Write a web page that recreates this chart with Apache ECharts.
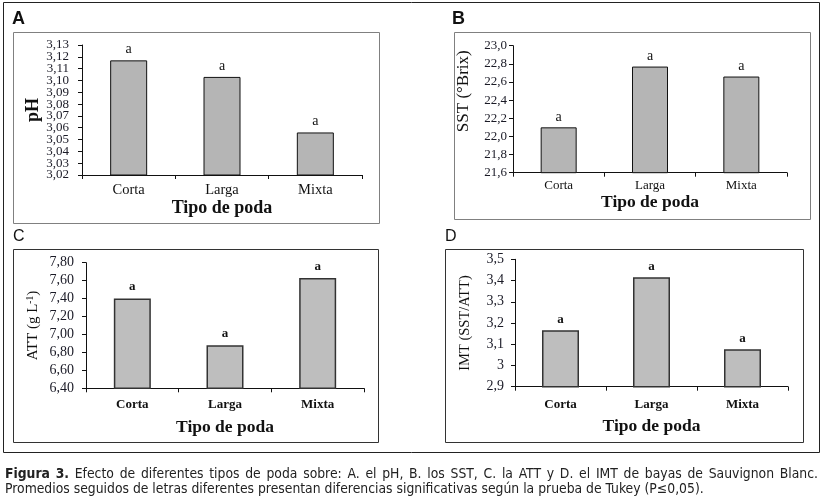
<!DOCTYPE html>
<html><head><meta charset="utf-8">
<script src="https://cdn.jsdelivr.net/npm/echarts@6/dist/echarts.min.js"></script>
<style>html,body{margin:0;padding:0;background:#fff}#c{width:824px;height:503px}</style>
</head><body><div id="c"></div>
<script>
// ---- data ----
const categories = ['Corta', 'Larga', 'Mixta'];
const phValues = [3.117, 3.103, 3.056];
const sstValues = [22.10, 22.77, 22.66];
const attValues = [7.40, 6.88, 7.63];
const imtValues = [3.166, 3.415, 3.076];
const significance = ['a', 'a', 'a'];
const phTicks = [3.02, 3.03, 3.04, 3.05, 3.06, 3.07, 3.08, 3.09, 3.10, 3.11, 3.12, 3.13];
const sstTicks = [21.6, 21.8, 22.0, 22.2, 22.4, 22.6, 22.8, 23.0];
const attTicks = [6.4, 6.6, 6.8, 7.0, 7.2, 7.4, 7.6, 7.8];
const imtTicks = [2.9, 3.0, 3.1, 3.2, 3.3, 3.4, 3.5];
const panelLetters = ['A', 'B', 'C', 'D'];
const xAxisTitle = 'Tipo de poda';
const captionBold = 'Figura 3.';
const captionLine1 = 'Efecto de diferentes tipos de poda sobre: A. el pH, B. los SST, C. la ATT y D. el IMT de bayas de Sauvignon Blanc.';
const captionLine2 = 'Promedios seguidos de letras diferentes presentan diferencias significativas según la prueba de Tukey (P≤0,05).';

const serif = 'Liberation Serif';
const capFontFamily = '"DejaVu Sans Condensed"';
const capSize = 13.8;

function comma(d) {
  return function (v) { return (d === null ? String(parseFloat(v.toFixed(1))) : v.toFixed(d)).replace('.', ','); };
}

// justified first caption line (layout only)
const mctx = document.createElement('canvas').getContext('2d');
const boldWords = captionBold.split(' ');
const normWords = captionLine1.split(' ');
let wordsW = 0;
mctx.font = 'bold ' + capSize + 'px ' + capFontFamily;
boldWords.forEach(w => wordsW += mctx.measureText(w).width);
mctx.font = capSize + 'px ' + capFontFamily;
normWords.forEach(w => wordsW += mctx.measureText(w).width);
const gaps = boldWords.length + normWords.length - 1;
const spW = Math.max(2, (813 - wordsW) / gaps);
const line1Rich = boldWords.map(w => '{b|' + w + '}').concat(normWords.map(w => '{n|' + w + '}')).join('{sp| }');

const panels = [
  { grid: { left: 82, top: 45, width: 280, height: 130 }, ticks: phTicks, interval: 0.01, dec: 2, split: true,
    data: phValues, name: 'pH', nameGap: 40, nameStyle: { fontWeight: 'bold', fontSize: 18 },
    xGap: 23, xFs: 18, xMargin: 8, catFs: 14.5, barWidth: 37, fill: '#b5b5b5', border: '#111', bw: 1,
    labelBold: false, labelFs: 14, labelDist: 4, tickFs: 13, tickMargin: 13, catBold: false },
  { grid: { left: 513, top: 45.7, width: 274, height: 127 }, ticks: sstTicks, interval: 0.2, dec: 1,
    data: sstValues, name: 'SST (°Brix)', nameGap: 41, nameStyle: { fontWeight: 'normal', fontSize: 17, padding: [0, 0, 0, 36] },
    xGap: 21, xFs: 17.5, xMargin: 6, catFs: 13, barWidth: 36, fill: '#b5b5b5', border: '#111', bw: 1,
    labelBold: false, labelFs: 14, labelDist: 3, tickFs: 13, tickMargin: 6, catBold: false },
  { grid: { left: 86, top: 262.7, width: 278, height: 125.6 }, ticks: attTicks, interval: 0.2, dec: 2,
    data: attValues, name: '{a|ATT (g L}{s|-1}{a|)}', nameGap: 45, nameStyle: { fontWeight: 'normal', fontSize: 15 },
    xGap: 30, xFs: 17.5, xMargin: 10, catFs: 13, barWidth: 37, fill: '#bebebe', border: '#333', bw: 1.5,
    labelBold: true, labelFs: 13, labelDist: 5, tickFs: 14, tickMargin: 12, catBold: true },
  { grid: { left: 515, top: 259.3, width: 273, height: 127.4 }, ticks: imtTicks, interval: 0.1, dec: null,
    data: imtValues, name: 'IMT (SST/ATT)', nameGap: 42, nameStyle: { fontWeight: 'normal', fontSize: 14.5 },
    xGap: 31, xFs: 17.5, xMargin: 11, catFs: 13, barWidth: 37, fill: '#bebebe', border: '#333', bw: 1.5,
    labelBold: true, labelFs: 13, labelDist: 4, tickFs: 14, tickMargin: 11, catBold: true }
];

const yAxes = panels.map((p, i) => ({
  type: 'value', gridIndex: i, position: 'left',
  min: p.ticks[0], max: p.ticks[p.ticks.length - 1], interval: p.interval,
  name: p.name, nameLocation: 'middle', nameGap: p.nameGap, nameRotate: 90,
  nameTextStyle: Object.assign({ fontFamily: serif, color: '#111',
    rich: { a: { fontFamily: serif, fontSize: 15, color: '#111' }, s: { fontFamily: serif, fontSize: 9.5, color: '#111', verticalAlign: 'top', padding: [0, 0, 6, 0] } } }, p.nameStyle),
  axisLine: { show: true, lineStyle: { color: '#111', width: 1 } },
  axisTick: { show: true, length: 4, lineStyle: { color: '#111' }, customValues: p.ticks },
  axisLabel: { fontFamily: serif, fontSize: p.tickFs, color: '#1a1a26', margin: p.tickMargin, formatter: comma(p.dec),
    customValues: p.split ? p.ticks.filter((t, k) => k % 2 === 0) : p.ticks, showMinLabel: true, showMaxLabel: true },
  splitLine: { show: false }
}));
// dense pH axis: the other half of the tick labels on an overlaid axis (avoids overlap hiding)
panels.forEach((p, i) => {
  if (!p.split) return;
  yAxes.push({
    type: 'value', gridIndex: i, position: 'left', offset: 0,
    min: p.ticks[0], max: p.ticks[p.ticks.length - 1], interval: p.interval,
    axisLine: { show: false }, axisTick: { show: false }, splitLine: { show: false },
    axisLabel: { fontFamily: serif, fontSize: p.tickFs, color: '#1a1a26', margin: p.tickMargin, formatter: comma(p.dec),
      customValues: p.ticks.filter((t, k) => k % 2 === 1), showMinLabel: true, showMaxLabel: true }
  });
});

const option = {
  animation: false,
  backgroundColor: '#fff',
  grid: panels.map(p => Object.assign({ containLabel: false }, p.grid)),
  xAxis: panels.map((p, i) => ({
    type: 'category', gridIndex: i, data: categories,
    name: xAxisTitle, nameLocation: 'middle', nameGap: p.xGap,
    nameTextStyle: { fontFamily: serif, fontWeight: 'bold', fontSize: p.xFs, color: '#111' },
    axisLine: { lineStyle: { color: '#111', width: 1 } },
    axisTick: { show: true, alignWithLabel: false, length: 4, lineStyle: { color: '#111' } },
    axisLabel: { fontFamily: serif, fontSize: p.catFs, color: '#111', margin: p.xMargin, fontWeight: p.catBold ? 'bold' : 'normal' },
    splitLine: { show: false }
  })),
  yAxis: yAxes,
  series: panels.map((p, i) => ({
    type: 'bar', xAxisIndex: i, yAxisIndex: i, data: p.data, barWidth: p.barWidth,
    itemStyle: { color: p.fill, borderColor: p.border, borderWidth: p.bw },
    label: { show: true, position: 'top', distance: p.labelDist, fontFamily: serif, fontSize: p.labelFs,
      fontWeight: p.labelBold ? 'bold' : 'normal', color: '#111',
      formatter: params => significance[params.dataIndex] }
  })),
  graphic: [
    { type: 'rect', shape: { x: 3.5, y: 2.5, width: 816, height: 450 }, style: { fill: 'none', stroke: '#222', lineWidth: 1 }, silent: true },
    { type: 'rect', shape: { x: 13.5, y: 32.5, width: 366, height: 191 }, style: { fill: 'none', stroke: '#808080', lineWidth: 1 }, silent: true },
    { type: 'rect', shape: { x: 454.5, y: 32.5, width: 356, height: 187 }, style: { fill: 'none', stroke: '#808080', lineWidth: 1 }, silent: true },
    { type: 'rect', shape: { x: 13.5, y: 249.5, width: 365, height: 193 }, style: { fill: 'none', stroke: '#333', lineWidth: 1 }, silent: true },
    { type: 'rect', shape: { x: 445.5, y: 249.5, width: 358, height: 193 }, style: { fill: 'none', stroke: '#333', lineWidth: 1 }, silent: true },
    { type: 'text', left: 12, top: 10, style: { text: panelLetters[0], font: 'bold 18px "Liberation Sans"', fill: '#111' } },
    { type: 'text', left: 452, top: 10, style: { text: panelLetters[1], font: 'bold 18px "Liberation Sans"', fill: '#111' } },
    { type: 'text', left: 13, top: 229, style: { text: panelLetters[2], font: '16px "Liberation Sans"', fill: '#111' } },
    { type: 'text', left: 445, top: 229, style: { text: panelLetters[3], font: '16px "Liberation Sans"', fill: '#111' } },
    { type: 'text', left: 5, top: 467, style: {
        text: line1Rich,
        rich: {
          b: { font: 'bold ' + capSize + 'px ' + capFontFamily, fill: '#222' },
          n: { font: capSize + 'px ' + capFontFamily, fill: '#222' },
          sp: { font: capSize + 'px ' + capFontFamily, width: spW }
        } } },
    { type: 'text', left: 5, top: 482, style: {
        text: captionLine2, font: capSize + 'px ' + capFontFamily, fill: '#222' } }
  ]
};
echarts.init(document.getElementById('c'), null, { renderer: 'canvas' }).setOption(option);
</script>
</body></html>
